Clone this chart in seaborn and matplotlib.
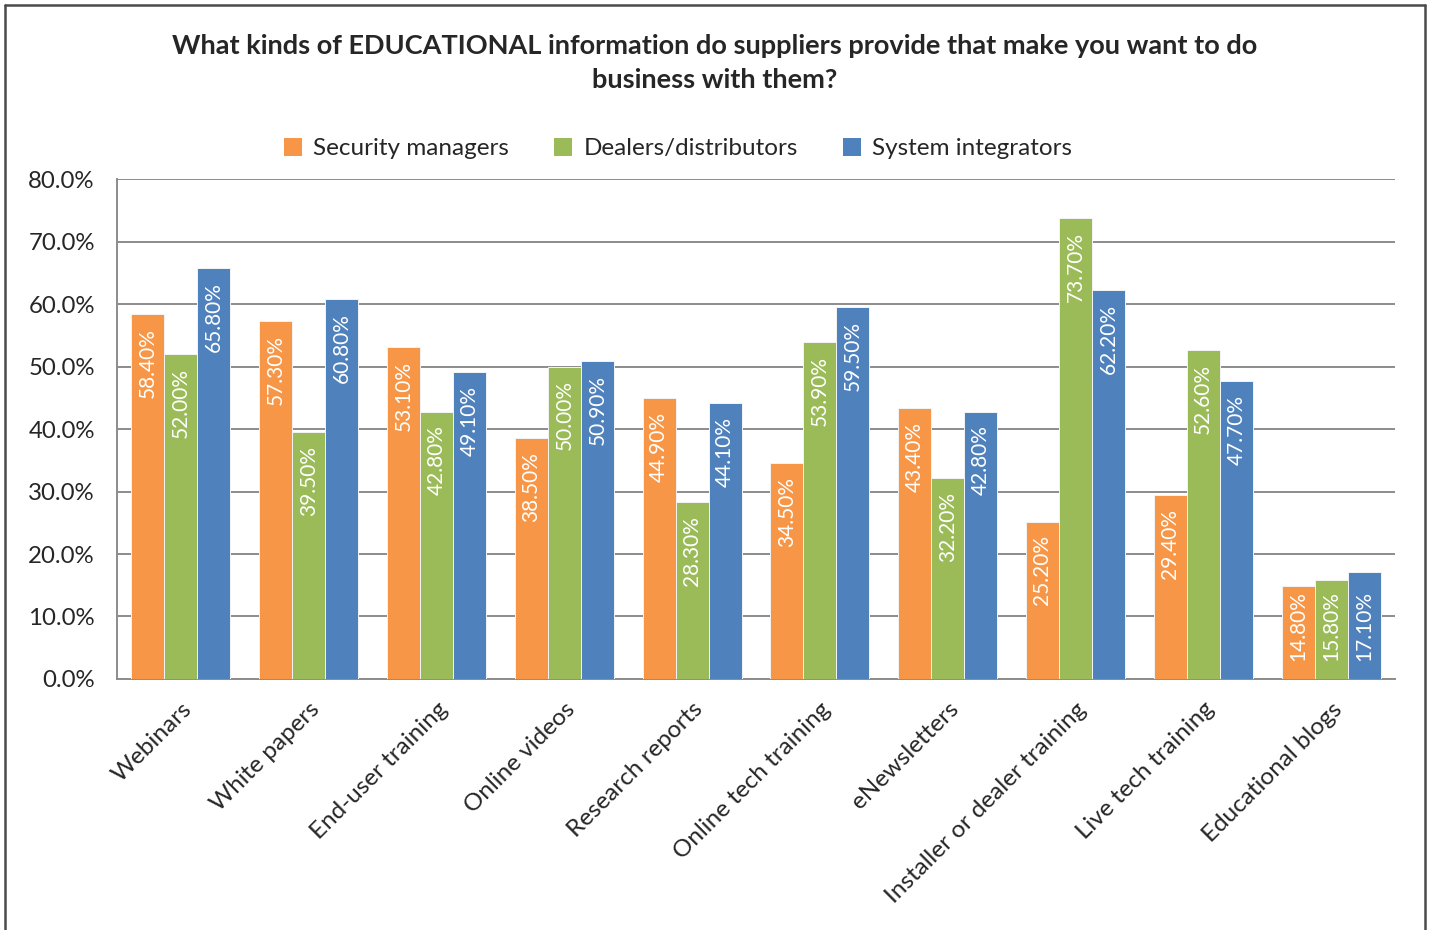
import matplotlib
matplotlib.use("Agg")
import matplotlib.pyplot as plt
from matplotlib.lines import Line2D
from matplotlib.patches import Patch
import seaborn as sns
import pandas as pd

categories = ["Webinars", "White papers", "End-user training", "Online videos",
              "Research reports", "Online tech training", "eNewsletters",
              "Installer or dealer training", "Live tech training", "Educational blogs"]
series_names = ["Security managers", "Dealers/distributors", "System integrators"]
security_managers = [58.4, 57.3, 53.1, 38.5, 44.9, 34.5, 43.4, 25.2, 29.4, 14.8]
dealers_distributors = [52.0, 39.5, 42.8, 50.0, 28.3, 53.9, 32.2, 73.7, 52.6, 15.8]
system_integrators = [65.8, 60.8, 49.1, 50.9, 44.1, 59.5, 42.8, 62.2, 47.7, 17.1]
y_ticks = [0, 10, 20, 30, 40, 50, 60, 70, 80]
title = ("What kinds of EDUCATIONAL information do suppliers provide that make you want to do\n"
         "business with them?")

colors = ["#F79646", "#9BBB59", "#4F81BD"]

rows = []
for name, vals in zip(series_names, [security_managers, dealers_distributors, system_integrators]):
    for cat, v in zip(categories, vals):
        rows.append({"category": cat, "group": name, "value": v})
df = pd.DataFrame(rows)

sns.set_theme(style="white")
plt.rcParams["font.family"] = ["Lato", "DejaVu Sans"]

fig = plt.figure(figsize=(14.29, 9.30), dpi=100)
ax = fig.add_axes([0.0819, 0.2699, 0.8943, 0.5376])

sns.barplot(data=df, x="category", y="value", hue="group", order=categories,
            hue_order=series_names, palette=colors, saturation=1, width=0.775, ax=ax,
            edgecolor="#f4f4f4", linewidth=0.7, legend=False, errorbar=None, zorder=3)

# value labels inside each bar, reading upward; short bars get the label
# pushed down so it stays within the bar
for container in ax.containers:
    for bar in container:
        h = bar.get_height()
        xc = bar.get_x() + bar.get_width() / 2
        common = dict(textcoords="offset points", rotation=90, rotation_mode="anchor",
                      va="center", color="white", fontsize=15, zorder=4)
        if h < 20:
            ax.annotate(f"{h:.2f}%", (xc, 0), xytext=(0, 13), ha="left", **common)
        else:
            ax.annotate(f"{h:.2f}%", (xc, h), xytext=(0, -10), ha="right", **common)

ax.set_xlim(-0.5, len(categories) - 0.5)
ax.set_ylim(0, 80)
ax.set_yticks(y_ticks)
ax.set_yticklabels([f"{t:.1f}%" for t in y_ticks], fontsize=17.3)
ax.yaxis.grid(True, color="#8c8c8c", linewidth=1.4, zorder=0)
ax.set_axisbelow(True)
ax.set_xlabel("")
ax.set_ylabel("")

# category ticks sit between groups
ax.set_xticks(range(len(categories)))
ax.set_xticklabels(categories, rotation=45, ha="right", va="top",
                   rotation_mode="anchor", fontsize=17.5)
ax.tick_params(axis="x", length=0, pad=14)
ax.set_xticks([i - 0.5 for i in range(len(categories) + 1)], minor=True)
ax.tick_params(axis="x", which="minor", length=8, width=1.4, color="#8c8c8c")
ax.tick_params(axis="y", length=7, width=1.4, color="#8c8c8c", pad=9)

for side in ["top", "right"]:
    ax.spines[side].set_visible(False)
for side in ["left", "bottom"]:
    ax.spines[side].set_color("#8c8c8c")
    ax.spines[side].set_linewidth(1.4)

handles = [Patch(facecolor=c, edgecolor="none") for c in colors]
fig.legend(handles, series_names, loc="center", bbox_to_anchor=(0.4745, 0.84),
           ncol=3, frameon=False, fontsize=17.5, handlelength=0.75, handleheight=0.75,
           handletextpad=0.45, columnspacing=1.85)

fig.text(0.5, 0.932, title, ha="center", va="center", fontsize=19.5,
         fontweight="bold", linespacing=1.5)

# outer chart frame
frame_kw = dict(color="#4a4a4a", linewidth=1.8, transform=fig.transFigure)
fig.add_artist(Line2D([0.0035, 0.0035], [0, 0.9946], **frame_kw))
fig.add_artist(Line2D([0.0035, 0.9972], [0.9946, 0.9946], **frame_kw))
fig.add_artist(Line2D([0.9972, 0.9972], [0, 0.9946], **frame_kw))

fig.savefig("out.png", dpi=100, facecolor="white")
